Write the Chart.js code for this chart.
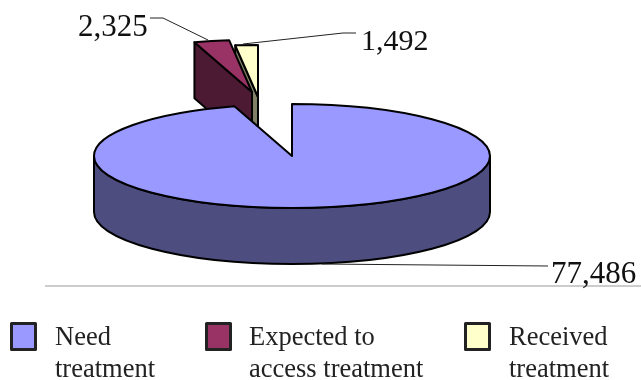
<!DOCTYPE html>
<html>
<head>
<meta charset="utf-8">
<style>
  html, body { margin: 0; padding: 0; background: #fff; }
  canvas { display: block; }
</style>
<script src="https://cdn.jsdelivr.net/npm/chart.js@4"></script>
</head>
<body>
<canvas id="chart" width="641" height="380"></canvas>
<script>
// Treatment counts
const categories = [['Need', 'treatment'], ['Expected to', 'access treatment'], ['Received', 'treatment']];
const counts = [77486, 2325, 1492];
const topColors = ['#9999ff', '#993366', '#ffffcc'];
const wallColors = ['#4d4d80', '#4d1a33', '#808066'];

// Projection of the flat pie onto a tilted disc
const disc = { cx: 292, cy: 156, rx: 198, ry: 52, depth: 56 };
// Displacement of each pulled-out slice from the disc centre
const pullOut = [[0, 0], [-40, -64], [-34, -59]];
// Leader lines and value labels
const leaders = [
  { pts: [[322, 264], [548, 266]], x: 551, y: 283, size: 31 },
  { pts: [[208, 40], [163, 18], [150, 18]], x: 78, y: 36, size: 31 },
  { pts: [[243, 44], [343, 33], [356, 33]], x: 361, y: 50, size: 30 }
];
// Legend swatch and text positions
const legendSlots = [
  { sx: 11.5, tx: 55 },
  { sx: 206.5, tx: 249 },
  { sx: 465.5, tx: 509 }
];

const serif = '"Liberation Serif", "Times New Roman", serif';

const tiltedPie = {
  id: 'tiltedPie',
  beforeDatasetDraw(chart) {
    const ctx = chart.ctx;
    const arcs = chart.getDatasetMeta(0).data;

    // Runs a path builder in disc coordinates; strokes stay at full width
    const place = (el, i, drop, build) => {
      const s = disc.rx / el.outerRadius;
      const t = disc.ry / el.outerRadius;
      ctx.save();
      ctx.translate(disc.cx + pullOut[i][0], disc.cy + pullOut[i][1] + drop);
      ctx.scale(s, t);
      build();
      ctx.restore();
    };
    const paint = (fill) => {
      ctx.fillStyle = fill;
      ctx.fill();
      ctx.strokeStyle = '#000';
      ctx.lineWidth = 2;
      ctx.lineJoin = 'round';
      ctx.stroke();
    };

    const drawWalls = (el, i) => {
      const R = el.outerRadius;
      // Rim facing the viewer: the part of the arc on the lower half
      const from = Math.max(el.startAngle, 0);
      const to = Math.min(el.endAngle, Math.PI);
      if (to > from) {
        ctx.beginPath();
        place(el, i, 0, () => ctx.arc(0, 0, R, from, to));
        place(el, i, disc.depth, () => ctx.arc(0, 0, R, to, from, true));
        ctx.closePath();
        paint(wallColors[i]);
      }
      // Cut face on the left side of a pulled-out slice
      if (i > 0) {
        const a = el.startAngle;
        ctx.beginPath();
        place(el, i, 0, () => { ctx.moveTo(R * Math.cos(a), R * Math.sin(a)); ctx.lineTo(0, 0); });
        place(el, i, disc.depth, () => { ctx.lineTo(0, 0); ctx.lineTo(R * Math.cos(a), R * Math.sin(a)); });
        ctx.closePath();
        paint(wallColors[i]);
      }
    };
    const drawTop = (el, i) => {
      ctx.beginPath();
      place(el, i, 0, () => {
        ctx.moveTo(0, 0);
        ctx.arc(0, 0, el.outerRadius, el.startAngle, el.endAngle);
        ctx.closePath();
      });
      paint(topColors[i]);
    };

    // Back to front: the small slices sit behind the large one
    [2, 1, 0].forEach((i) => {
      drawWalls(arcs[i], i);
      drawTop(arcs[i], i);
    });
    return false;
  },
  afterDraw(chart) {
    const ctx = chart.ctx;
    ctx.save();

    // Thin rule separating the pie from the legend
    ctx.fillStyle = '#cccccc';
    ctx.fillRect(45, 285, 596, 2);

    // Leader lines with value labels
    ctx.textAlign = 'left';
    ctx.textBaseline = 'alphabetic';
    leaders.forEach((l, i) => {
      ctx.beginPath();
      l.pts.forEach((p, j) => (j ? ctx.lineTo(p[0], p[1]) : ctx.moveTo(p[0], p[1])));
      ctx.strokeStyle = '#222';
      ctx.lineWidth = 1;
      ctx.stroke();
      ctx.font = l.size + 'px ' + serif;
      ctx.fillStyle = '#111';
      ctx.fillText(counts[i].toLocaleString('en-US'), l.x, l.y);
    });

    // Legend
    ctx.font = '26.5px ' + serif;
    legendSlots.forEach((slot, i) => {
      ctx.fillStyle = topColors[i];
      ctx.fillRect(slot.sx, 323.5, 24, 26);
      ctx.strokeStyle = '#222';
      ctx.lineWidth = 3;
      ctx.strokeRect(slot.sx, 323.5, 24, 26);
      ctx.fillStyle = '#222';
      chart.data.labels[i].forEach((line, k) => ctx.fillText(line, slot.tx, 345 + k * 32));
    });
    ctx.restore();
  }
};

new Chart(document.getElementById('chart'), {
  type: 'pie',
  data: {
    labels: categories,
    datasets: [{ data: counts, backgroundColor: topColors, borderColor: '#000' }]
  },
  options: {
    responsive: false,
    animation: false,
    plugins: { legend: { display: false }, tooltip: { enabled: false } }
  },
  plugins: [tiltedPie]
});
</script>
</body>
</html>
